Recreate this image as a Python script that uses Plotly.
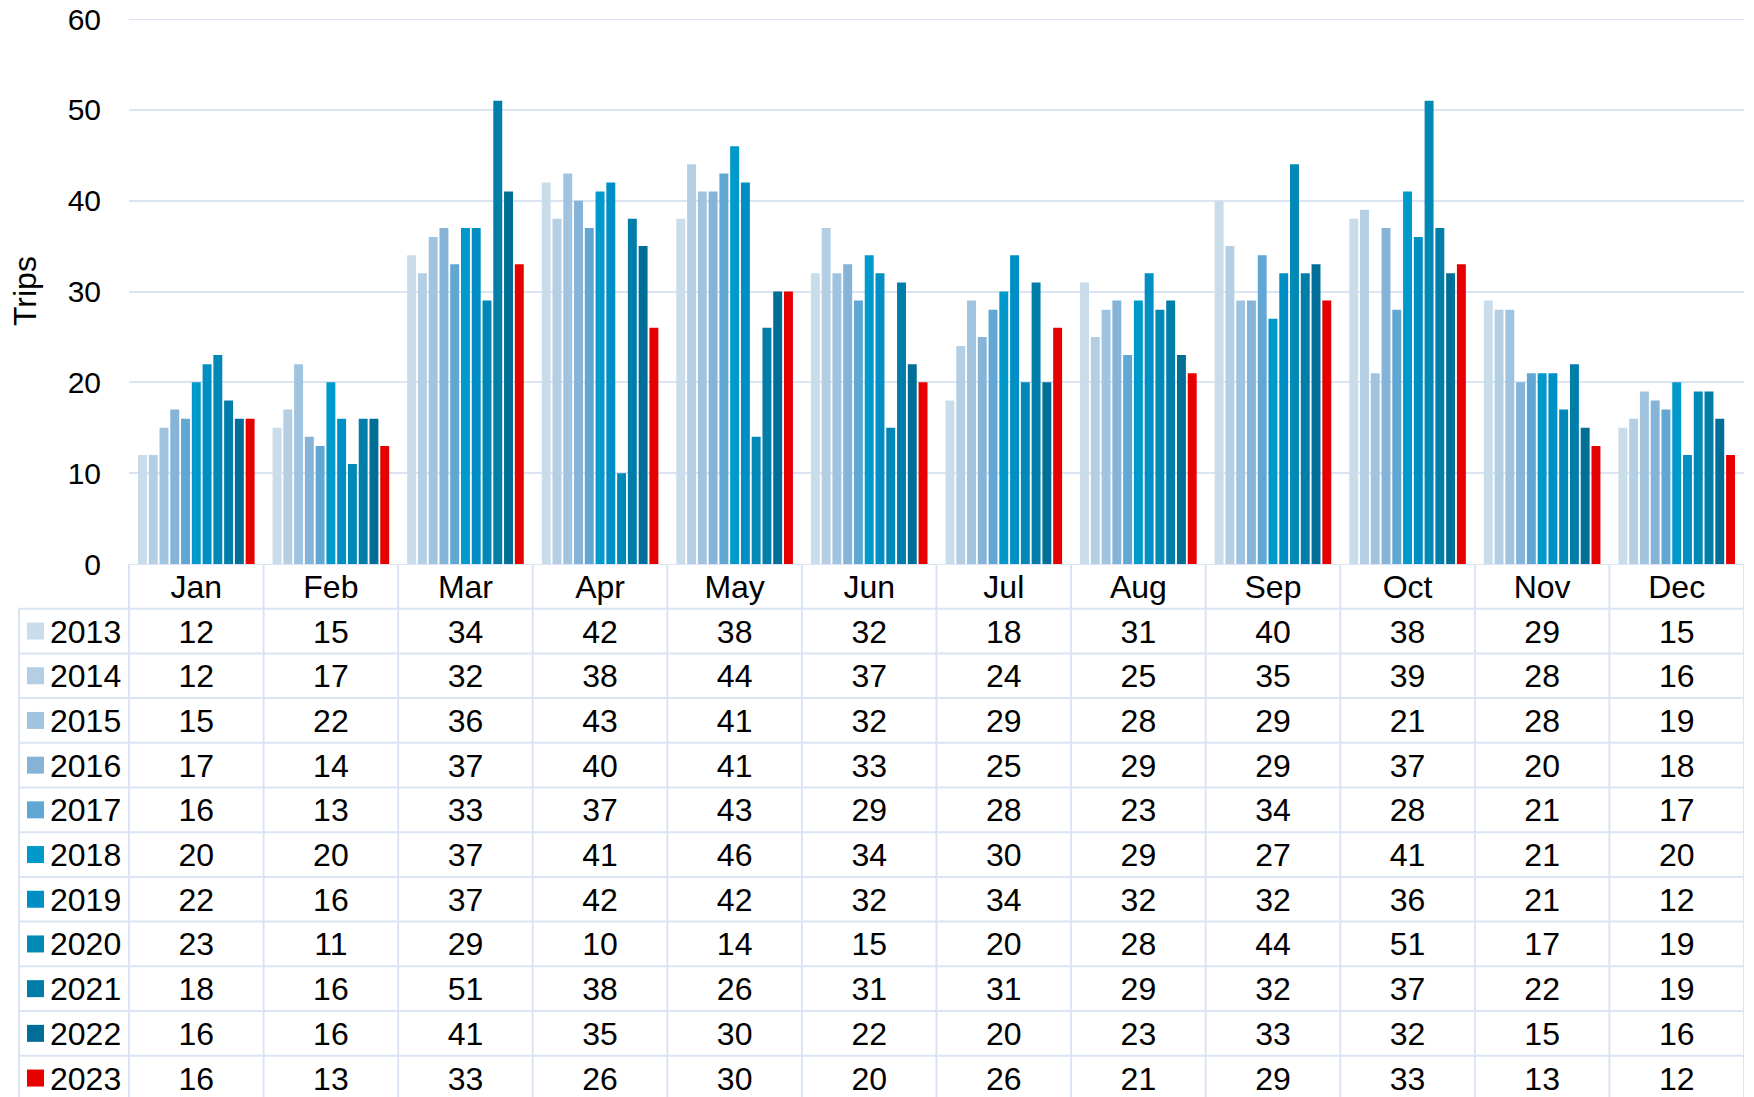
import plotly.graph_objects as go

months = ["Jan", "Feb", "Mar", "Apr", "May", "Jun", "Jul", "Aug", "Sep", "Oct", "Nov", "Dec"]
years = ["2013", "2014", "2015", "2016", "2017", "2018", "2019", "2020", "2021", "2022", "2023"]

trips_2013 = [12, 15, 34, 42, 38, 32, 18, 31, 40, 38, 29, 15]
trips_2014 = [12, 17, 32, 38, 44, 37, 24, 25, 35, 39, 28, 16]
trips_2015 = [15, 22, 36, 43, 41, 32, 29, 28, 29, 21, 28, 19]
trips_2016 = [17, 14, 37, 40, 41, 33, 25, 29, 29, 37, 20, 18]
trips_2017 = [16, 13, 33, 37, 43, 29, 28, 23, 34, 28, 21, 17]
trips_2018 = [20, 20, 37, 41, 46, 34, 30, 29, 27, 41, 21, 20]
trips_2019 = [22, 16, 37, 42, 42, 32, 34, 32, 32, 36, 21, 12]
trips_2020 = [23, 11, 29, 10, 14, 15, 20, 28, 44, 51, 17, 19]
trips_2021 = [18, 16, 51, 38, 26, 31, 31, 29, 32, 37, 22, 19]
trips_2022 = [16, 16, 41, 35, 30, 22, 20, 23, 33, 32, 15, 16]
trips_2023 = [16, 13, 33, 26, 30, 20, 26, 21, 29, 33, 13, 12]

series = [trips_2013, trips_2014, trips_2015, trips_2016, trips_2017, trips_2018,
          trips_2019, trips_2020, trips_2021, trips_2022, trips_2023]

colors = ["#c9dcea", "#b4cfe4", "#a0c4df", "#85b4d8", "#60a8d3", "#0099cc",
          "#008fc4", "#0088b6", "#007ea9", "#006e97", "#e60000"]

FONT = "Liberation Sans, Arial, sans-serif"
FS = 32
TICK_FS = 30
LINE = "#dae4f3"

W, H = 1754, 1097
OFF = 8  # the page body adds an 8px margin, so layout is shifted back by that much

# pixel layout (as seen in the screenshot), converted to figure pixels
plot_left = 129 - OFF
plot_right = 1744 - OFF
axis_y = 564 - OFF     # y pixel of the value 0
top_y = 19 - OFF       # y pixel of the value 60
table_left = 19 - OFF
row_h = 44.7

col_w = (plot_right - plot_left) / 12
legend_w = plot_left - table_left
x2_min = -0.5 - legend_w / col_w
x2_start = x2_min - table_left / col_w

area_h = H - top_y
split = (H - axis_y) / area_h
rows_visible = (H - axis_y) / row_h
y2_top = -1.5
y2_bottom = y2_top + rows_visible
text_dy = 3.5 / row_h  # nudge cell text down to sit like the reference

fig = go.Figure()

for year, vals, col in zip(years, series, colors):
    fig.add_trace(go.Bar(x=months, y=vals, name=year, marker_color=col,
                         marker_line_width=0, showlegend=False,
                         xaxis="x", yaxis="y"))

text_font = dict(family=FONT, size=FS, color="black")

# table: month header
fig.add_trace(go.Scatter(x=list(range(12)), y=[-1 + text_dy] * 12, mode="text", text=months,
                         textfont=text_font, xaxis="x2", yaxis="y2",
                         showlegend=False, hoverinfo="skip"))

# table: values
cx, cy, ct = [], [], []
for r, vals in enumerate(series):
    for c, v in enumerate(vals):
        cx.append(c)
        cy.append(r + text_dy)
        ct.append(str(v))
fig.add_trace(go.Scatter(x=cx, y=cy, mode="text", text=ct, textfont=text_font,
                         xaxis="x2", yaxis="y2", showlegend=False, hoverinfo="skip"))

# table: legend keys and year labels
key_x = x2_min + 16.5 / col_w
label_x = x2_min + 31 / col_w
rows = list(range(len(years)))
fig.add_trace(go.Scatter(x=[key_x] * len(years), y=rows, mode="markers",
                         marker=dict(symbol="square", size=17, color=colors),
                         xaxis="x2", yaxis="y2", showlegend=False, hoverinfo="skip",
                         cliponaxis=False))
fig.add_trace(go.Scatter(x=[label_x] * len(years), y=[r + text_dy for r in rows],
                         mode="text", text=years, textposition="middle right",
                         textfont=text_font, xaxis="x2", yaxis="y2",
                         showlegend=False, hoverinfo="skip", cliponaxis=False))

line_style = dict(color=LINE, width=2)
shapes = [dict(type="line", xref="x domain", yref="y", x0=0, x1=1, y0=60, y1=60,
               line=line_style, layer="below")]
# vertical table lines
for k in range(13):
    shapes.append(dict(type="line", xref="x2", yref="y2", x0=k - 0.5, x1=k - 0.5,
                       y0=-1.5, y1=y2_bottom + 1, line=line_style, layer="below"))
shapes.append(dict(type="line", xref="x2", yref="y2", x0=x2_min, x1=x2_min,
                   y0=-0.5, y1=y2_bottom + 1, line=line_style, layer="below"))
# horizontal table lines
shapes.append(dict(type="line", xref="x2", yref="y2", x0=-0.5, x1=11.5,
                   y0=-1.5, y1=-1.5, line=line_style, layer="below"))
for i in range(len(years) + 1):
    shapes.append(dict(type="line", xref="x2", yref="y2", x0=x2_min, x1=11.5,
                       y0=i - 0.5, y1=i - 0.5, line=line_style, layer="below"))

fig.update_layout(
    width=W, height=H,
    margin=dict(l=0, r=W - plot_right, t=top_y, b=0, autoexpand=False),
    paper_bgcolor="white", plot_bgcolor="white",
    barmode="group", bargap=0.12, bargroupgap=0.17,
    font=dict(family=FONT, size=FS, color="black"),
    xaxis=dict(domain=[plot_left / plot_right, 1], range=[-0.5, 11.5], automargin=False,
               showticklabels=False, showgrid=False, showline=False, zeroline=False),
    yaxis=dict(domain=[split, 1], range=[0, 60], dtick=10, showgrid=True, automargin=False,
               gridcolor=LINE, gridwidth=2, zeroline=False, showline=False,
               ticks="", ticklabelstandoff=27, ticklabeloverflow="allow",
               tickfont=dict(family=FONT, size=TICK_FS, color="black")),
    xaxis2=dict(domain=[0, 1], range=[x2_start, 11.5], automargin=False,
                visible=False, anchor="y2"),
    yaxis2=dict(domain=[0, split], range=[y2_bottom, y2_top], automargin=False,
                visible=False, anchor="x2"),
    shapes=shapes,
    annotations=[dict(text="Trips", xref="paper", yref="paper",
                      x=(25 - OFF) / plot_right, xanchor="center",
                      y=1 - (291 - OFF - top_y) / area_h, yanchor="middle",
                      textangle=-90, showarrow=False,
                      font=dict(family=FONT, size=FS, color="black"))],
)

fig.write_html("out.html")
